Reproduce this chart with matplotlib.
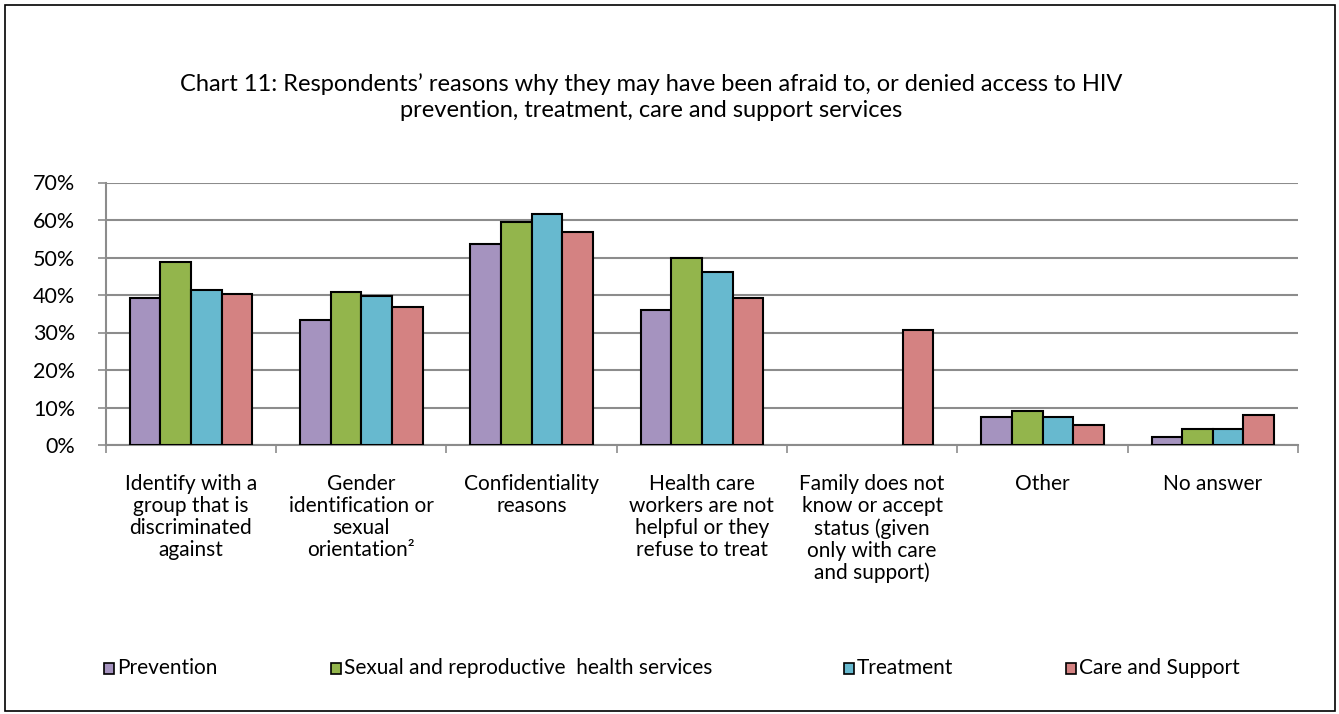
import matplotlib
matplotlib.use("Agg")
import matplotlib.pyplot as plt
import numpy as np
from matplotlib.patches import Rectangle

plt.rcParams['font.family'] = ['Lato', 'DejaVu Sans']

categories = [
    "Identify with a\ngroup that is\ndiscriminated\nagainst",
    "Gender\nidentification or\nsexual\norientation\u00b2",
    "Confidentiality\nreasons",
    "Health care\nworkers are not\nhelpful or they\nrefuse to treat",
    "Family does not\nknow or accept\nstatus (given\nonly with care\nand support)",
    "Other",
    "No answer",
]
series_names = ["Prevention", "Sexual and reproductive  health services", "Treatment", "Care and Support"]
prevention = [39.3, 33.4, 53.7, 36.1, 0, 7.5, 2.1]
sexual_repro = [48.9, 40.8, 59.6, 49.9, 0, 9.1, 4.3]
treatment = [41.4, 39.8, 61.7, 46.2, 0, 7.5, 4.3]
care_support = [40.4, 36.7, 56.9, 39.3, 30.7, 5.3, 8.0]
yticks = [0, 10, 20, 30, 40, 50, 60, 70]
colors = ["#A593BF", "#93B54C", "#67B9CF", "#D48282"]

W, H = 1339, 714
fig = plt.figure(figsize=(W / 100, H / 100), dpi=100)
ax = fig.add_axes([105.7 / W, 1 - 445 / H, (1298 - 105.7) / W, (445 - 182.5) / H])

data = [prevention, sexual_repro, treatment, care_support]
x = np.arange(len(categories))
bw = 0.18
for i, (vals, c, name) in enumerate(zip(data, colors, series_names)):
    bars = ax.bar(x + (i - 1.5) * bw, vals, width=bw, color=c, edgecolor="black",
                  linewidth=1.5, label=name, zorder=3)
    for b, v in zip(bars, vals):
        if v == 0:
            b.set_linewidth(0)

ax.set_xlim(-0.5, len(categories) - 0.5)
ax.set_ylim(0, 70)
ax.set_yticks(yticks)
ax.set_yticklabels([f"{v}%" for v in yticks], fontsize=15.5)
ax.yaxis.grid(True, color="#8C8C8C", linewidth=1.5, zorder=0)
ax.set_xticks(np.arange(-0.5, len(categories), 1.0))
ax.set_xticklabels([])
ax.set_xticks(x, minor=True)
ax.set_xticklabels(categories, minor=True, fontsize=15, va="top", linespacing=1.12)
ax.tick_params(axis="x", which="minor", length=0, pad=21)
ax.tick_params(axis="x", which="major", length=6, color="#8C8C8C", width=1.2)
ax.tick_params(axis="y", length=6, color="#8C8C8C", width=1.2, pad=16)
for s in ["top", "right"]:
    ax.spines[s].set_visible(False)
ax.spines["left"].set_color("#8C8C8C")
ax.spines["bottom"].set_color("#8C8C8C")
ax.spines["left"].set_linewidth(1.5)
ax.spines["bottom"].set_linewidth(1.5)

fig.text(0.486, 1 - 97 / H,
         "Chart 11: Respondents\u2019 reasons why they may have been afraid to, or denied access to HIV\n"
         "prevention, treatment, care and support services",
         ha="center", va="center", fontsize=17, linespacing=1.3)

leg_x = [104, 331, 844, 1066]
for xx, c, name in zip(leg_x, colors, series_names):
    fig.patches.append(Rectangle((xx / W, 1 - 674 / H), 10 / W, 11 / H, transform=fig.transFigure,
                                 facecolor=c, edgecolor="black", linewidth=1.2))
    fig.text((xx + 13) / W, 1 - 668 / H, name, fontsize=15, va="center", ha="left")

fig.patches.append(Rectangle((4.5 / W, 3.5 / H), 1 - 9 / W, 1 - 8 / H, transform=fig.transFigure,
                             facecolor="none", edgecolor="black", linewidth=1.2))

fig.savefig("out.png", dpi=100)
